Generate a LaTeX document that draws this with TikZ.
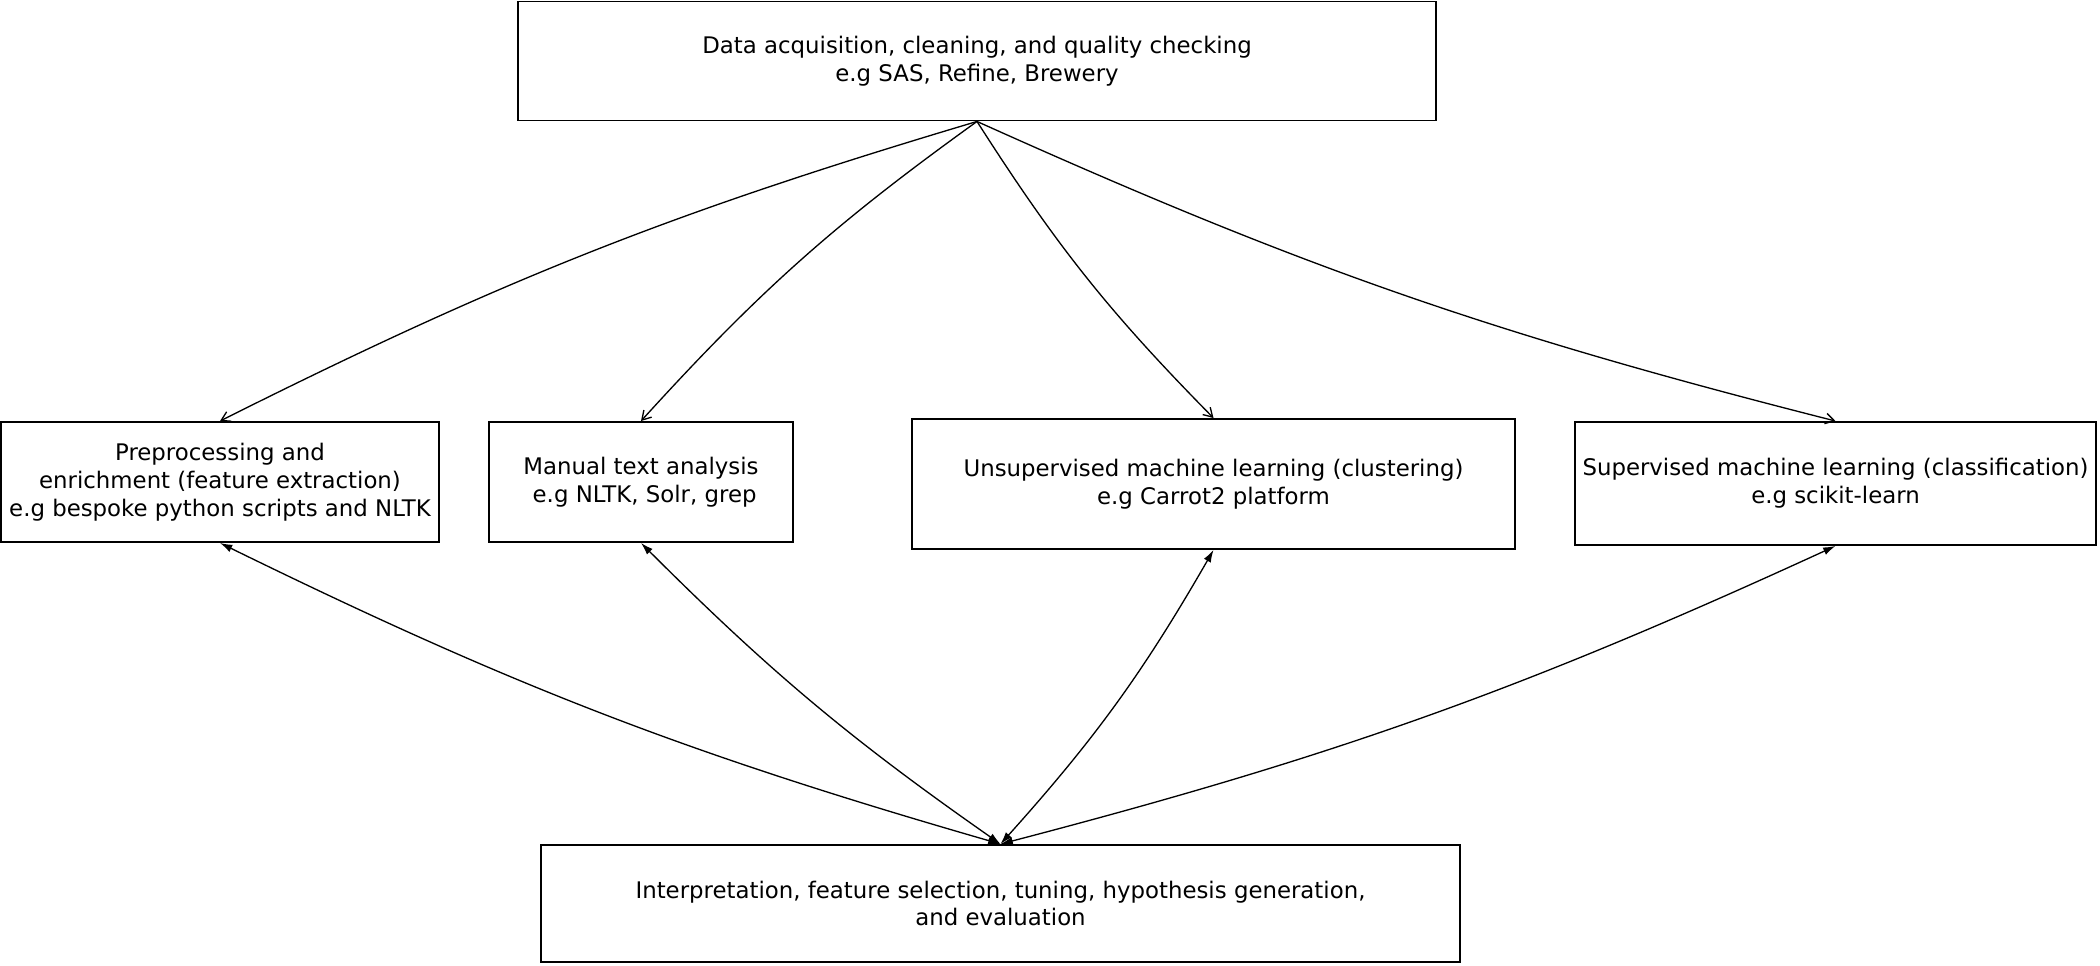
\documentclass[tikz,border=0pt]{standalone}
\usepackage{fontspec}
\setmainfont{DejaVu Sans}
\usepackage{tikz}
\usetikzlibrary{calc}
\usetikzlibrary{arrows.meta}
\usetikzlibrary{positioning}
\begin{document}
\begin{tikzpicture}[box/.style={rectangle, draw=black, line width=1.1pt, align=center, inner sep=2pt, font=\fontsize{13pt}{15.8pt}\selectfont}]
 \useasboundingbox (0, 0) rectangle (42, 19.3);
 \node [box, minimum width=18.36cm, minimum height=2.38cm] (D) at (19.54, 18.08) {Data acquisition, cleaning, and quality checking\\e.g SAS, Refine, Brewery};
 \node [box, minimum width=8.76cm, minimum height=2.4cm] (P) at (4.40, 9.66) {Preprocessing and\\enrichment (feature extraction)\\e.g bespoke python scripts and NLTK};
 \node [box, minimum width=6.08cm, minimum height=2.4cm] (M) at (12.82, 9.66) {Manual text analysis\\ \ e.g NLTK, Solr, grep};
 \node [box, minimum width=12.06cm, minimum height=2.6cm] (U) at (24.27, 9.62) {Unsupervised machine learning (clustering)\\e.g Carrot2 platform};
 \node [box, minimum width=10.42cm, minimum height=2.46cm] (S) at (36.71, 9.63) {Supervised machine learning (classification)\\e.g scikit-learn};
 \node [box, minimum width=18.38cm, minimum height=2.34cm] (I) at (20.01, 1.23) {Interpretation, feature selection, tuning, hypothesis generation,\\and evaluation};
 \draw [-{Straight Barb[length=5pt,width=6pt]}, line width=0.75pt] (D.south) to [bend right=5] (P.north);
 \draw [-{Straight Barb[length=5pt,width=6pt]}, line width=0.75pt] (D.south) to [bend right=6] (M.north);
 \draw [-{Straight Barb[length=5pt,width=6pt]}, line width=0.75pt] (D.south) to [bend right=6] (U.north);
 \draw [-{Straight Barb[length=5pt,width=6pt]}, line width=0.75pt] (D.south) to [bend right=5] (S.north);
 \draw [{Latex[length=7pt,width=4.5pt]}-{Latex[length=7pt,width=4.5pt]}, line width=0.75pt] (P.south) to [bend right=5] (I.north);
 \draw [{Latex[length=7pt,width=4.5pt]}-{Latex[length=7pt,width=4.5pt]}, line width=0.75pt] (M.south) to [bend right=5] (I.north);
 \draw [{Latex[length=7pt,width=4.5pt]}-{Latex[length=7pt,width=4.5pt]}, line width=0.75pt] (U.south) to [bend left=6] (I.north);
 \draw [{Latex[length=7pt,width=4.5pt]}-{Latex[length=7pt,width=4.5pt]}, line width=0.75pt] (S.south) to [bend left=5] (I.north);
 \end{tikzpicture}
\end{document}
